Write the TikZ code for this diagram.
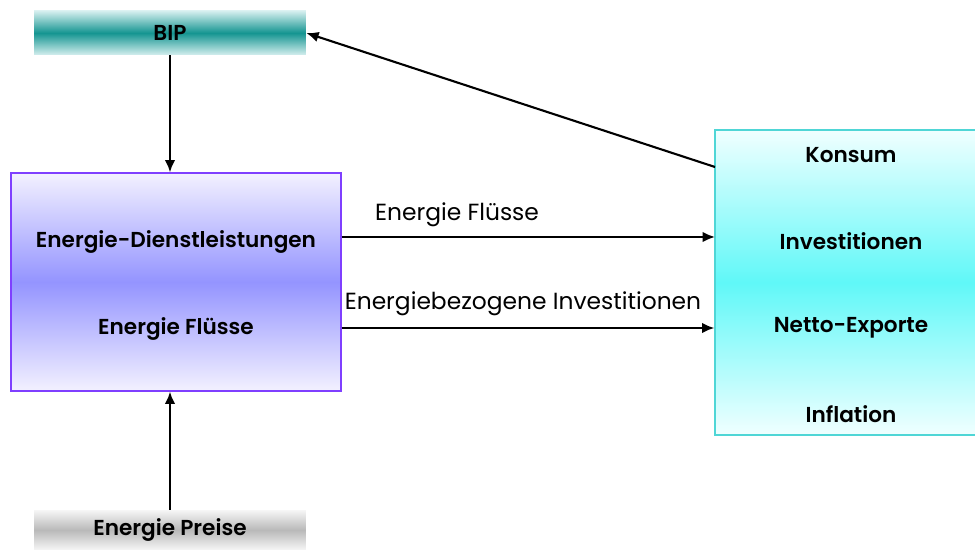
\documentclass[tikz,border=0pt]{standalone}
\usepackage{fontspec}
\setmainfont{Poppins}[BoldFont={Poppins SemiBold}]
\usetikzlibrary{arrows.meta}

\definecolor{bipedge}{HTML}{D4EEEE}
\definecolor{bipmid}{HTML}{149591}
\definecolor{grayedge}{HTML}{F6F6F6}
\definecolor{graymid}{HTML}{B9B9B9}
\definecolor{lilaedge}{HTML}{F3F1FF}
\definecolor{lilamid}{HTML}{9494FF}
\definecolor{lilaline}{HTML}{7F3FFF}
\definecolor{cyanedge}{HTML}{F0FFFF}
\definecolor{cyanmid}{HTML}{60F8F8}
\definecolor{cyanline}{HTML}{4FD6D6}

\begin{document}
\begin{tikzpicture}[x=0.02cm,y=-0.02cm,
  font=\fontsize{13.3}{15}\selectfont,
  bar/.style={minimum width=5.44cm, inner sep=0pt, font=\fontsize{12.3}{14}\selectfont\bfseries},
  item/.style={font=\fontsize{12.3}{14}\selectfont\bfseries},
  flow/.style={-{Latex[length=7pt,width=6pt]}, line width=1.2pt}]
\useasboundingbox (0,0) rectangle (975,550);
\clip (0,0) rectangle (975,550);
% top and bottom bars
\node [bar, minimum height=0.88cm, top color=bipedge, bottom color=bipedge, middle color=bipmid] (bip) at (170,33) {BIP};
\node [bar, minimum height=0.80cm, top color=grayedge, bottom color=grayedge, middle color=graymid] (preis) at (170,530) {Energie Preise};
% energy system box
\node [draw=lilaline, line width=0.8pt, minimum width=6.6cm, minimum height=4.36cm, top color=lilaedge, bottom color=lilaedge, middle color=lilamid] (svc) at (176,282) {};
\node [item] (dienst) at (176,242) {Energie-Dienstleistungen};
\node [item] (fluss) at (176,329) {Energie Flüsse};
% economy box
\node [draw=cyanline, line width=0.8pt, minimum width=6cm, minimum height=6.1cm, top color=cyanedge, bottom color=cyanedge, middle color=cyanmid] (mkt) at (865,282.5) {};
\node [item] (konsum) at (851,155) {Konsum};
\node [item] (inv) at (851,241) {Investitionen};
\node [item] (exp) at (851,328) {Netto-Exporte};
\node [item] (infl) at (851,414) {Inflation};
% arrows
\draw [flow] (bip.south) -- (bip.south |- svc.north);
\draw [flow] (preis.north) -- (preis.north |- svc.south);
\coordinate (in1) at (715,237);
\draw [flow] (svc.east |- in1) -- (in1);
\draw [flow] (svc.east |- exp) -- (mkt.west |- exp);
\coordinate (back) at (715,167);
\draw [flow] (back) -- (bip.east);
\node (lfluss) at (457,215) {Energie Flüsse};
\node (linv) at (523,304) {Energiebezogene Investitionen};
\end{tikzpicture}
\end{document}
